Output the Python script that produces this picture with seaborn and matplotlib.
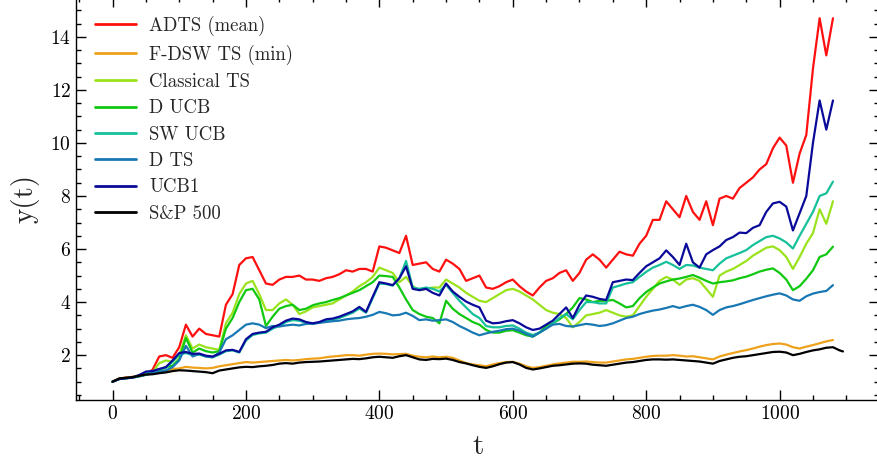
import numpy as np
import pandas as pd
import matplotlib
matplotlib.use("Agg")
import matplotlib.pyplot as plt
import seaborn as sns

# ---------------- data ----------------
t_alg = list(range(0, 1081, 10))
t_sp = list(range(0, 1091, 10)) + [1095]

adts = [1.00, 1.12, 1.15, 1.18, 1.22, 1.28, 1.45, 1.95, 2.00, 1.90,
        2.30, 3.15, 2.70, 3.00, 2.80, 2.75, 2.70, 3.90, 4.30, 5.40,
        5.65, 5.70, 5.20, 4.70, 4.65, 4.85, 4.95, 4.95, 5.00, 4.85,
        4.85, 4.80, 4.90, 4.95, 5.05, 5.20, 5.15, 5.25, 5.25, 5.15,
        6.10, 6.05, 5.95, 5.85, 6.50, 5.40, 5.45, 5.50, 5.25, 5.15,
        5.60, 5.45, 5.25, 4.80, 4.90, 5.00, 4.55, 4.50, 4.60, 4.75,
        4.85, 4.60, 4.40, 4.25, 4.55, 4.80, 4.90, 5.10, 5.20, 4.80,
        5.10, 5.60, 5.80, 5.60, 5.30, 5.60, 5.90, 5.80, 5.75, 6.20,
        6.50, 7.10, 7.10, 7.80, 7.50, 7.20, 8.00, 7.40, 7.10, 7.80,
        6.90, 7.90, 8.00, 7.90, 8.30, 8.50, 8.70, 9.00, 9.20, 9.80,
        10.20, 9.90, 8.50, 9.60, 10.30, 12.80, 14.70, 13.30, 14.70]

fdsw = [1.00, 1.12, 1.15, 1.18, 1.24, 1.30, 1.33, 1.38, 1.42, 1.48,
        1.50, 1.56, 1.53, 1.52, 1.50, 1.52, 1.58, 1.62, 1.66, 1.70,
        1.74, 1.72, 1.74, 1.76, 1.78, 1.80, 1.82, 1.80, 1.82, 1.85,
        1.87, 1.88, 1.92, 1.95, 1.97, 2.00, 2.00, 1.98, 2.02, 2.05,
        2.06, 2.05, 2.03, 2.04, 2.05, 1.98, 1.94, 1.92, 1.95, 1.92,
        1.94, 1.90, 1.80, 1.70, 1.65, 1.62, 1.58, 1.65, 1.70, 1.74,
        1.75, 1.68, 1.58, 1.52, 1.55, 1.60, 1.65, 1.69, 1.72, 1.75,
        1.75, 1.76, 1.74, 1.72, 1.72, 1.76, 1.80, 1.84, 1.86, 1.90,
        1.94, 1.97, 1.98, 1.98, 2.00, 1.98, 1.95, 1.96, 1.92, 1.88,
        1.84, 1.95, 2.02, 2.08, 2.14, 2.19, 2.25, 2.32, 2.38, 2.42,
        2.44, 2.40, 2.30, 2.25, 2.32, 2.38, 2.45, 2.52, 2.57]

classical = [1.00, 1.10, 1.13, 1.16, 1.21, 1.27, 1.35, 1.70, 1.80, 1.75,
             2.00, 2.75, 2.25, 2.40, 2.30, 2.25, 2.20, 3.20, 3.60, 4.30,
             4.70, 4.80, 4.30, 3.70, 3.70, 3.95, 4.10, 3.90, 3.55, 3.65,
             3.80, 3.85, 3.90, 3.95, 4.10, 4.25, 4.40, 4.60, 4.75, 4.95,
             5.30, 5.20, 5.10, 4.75, 4.95, 4.60, 4.45, 4.50, 4.55, 4.55,
             4.85, 4.70, 4.55, 4.35, 4.20, 4.05, 4.00, 4.15, 4.30, 4.45,
             4.50, 4.40, 4.25, 4.10, 3.90, 3.70, 3.60, 3.55, 3.40, 3.05,
             3.25, 3.50, 3.55, 3.60, 3.70, 3.60, 3.50, 3.45, 3.50, 3.85,
             4.20, 4.50, 4.80, 4.95, 4.85, 4.65, 4.85, 4.90, 4.80, 4.50,
             4.20, 5.00, 5.15, 5.25, 5.40, 5.55, 5.75, 5.90, 6.05, 6.10,
             5.96, 5.70, 5.25, 5.70, 6.20, 6.60, 7.50, 6.95, 7.80]

d_ucb = [1.00, 1.10, 1.13, 1.16, 1.20, 1.26, 1.32, 1.45, 1.55, 1.60,
         1.85, 2.65, 2.10, 2.25, 2.15, 2.10, 2.15, 3.00, 3.40, 4.00,
         4.45, 4.50, 4.10, 3.10, 3.45, 3.75, 3.85, 3.90, 3.70, 3.75,
         3.88, 3.95, 4.00, 4.08, 4.15, 4.25, 4.35, 4.45, 4.60, 4.75,
         5.00, 4.98, 4.95, 4.55, 4.10, 3.70, 3.55, 3.45, 3.40, 3.20,
         4.05, 3.75, 3.55, 3.40, 3.25, 3.15, 2.95, 2.85, 2.85, 2.92,
         2.94, 2.85, 2.75, 2.70, 2.85, 3.10, 3.20, 3.35, 3.55, 3.80,
         4.15, 4.10, 4.00, 4.05, 4.05, 4.08, 3.95, 3.80, 3.85, 4.15,
         4.38, 4.55, 4.70, 4.78, 4.85, 4.89, 4.95, 5.02, 4.92, 4.80,
         4.70, 4.75, 4.78, 4.82, 4.90, 4.96, 5.05, 5.15, 5.22, 5.27,
         5.10, 4.85, 4.45, 4.60, 4.88, 5.20, 5.70, 5.80, 6.09]

sw_ucb = [1.00, 1.10, 1.13, 1.16, 1.24, 1.36, 1.38, 1.46, 1.52, 1.75,
          2.02, 2.08, 2.00, 2.02, 1.95, 1.92, 2.02, 2.15, 2.18, 2.10,
          2.55, 2.76, 2.82, 2.85, 3.00, 3.10, 3.25, 3.32, 3.30, 3.22,
          3.18, 3.22, 3.30, 3.34, 3.40, 3.50, 3.60, 3.76, 3.60, 4.15,
          4.70, 4.68, 4.62, 4.90, 5.55, 4.55, 4.50, 4.55, 4.50, 4.40,
          4.65, 4.35, 4.05, 3.80, 3.55, 3.40, 3.10, 3.05, 3.05, 3.10,
          3.12, 3.00, 2.85, 2.76, 2.85, 3.00, 3.20, 3.40, 3.55, 3.35,
          3.70, 4.00, 4.00, 3.95, 3.95, 4.55, 4.62, 4.70, 4.75, 4.95,
          5.14, 5.30, 5.40, 5.52, 5.40, 5.25, 5.40, 5.38, 5.30, 5.25,
          5.20, 5.45, 5.65, 5.75, 5.85, 5.96, 6.15, 6.30, 6.45, 6.50,
          6.40, 6.25, 6.02, 6.50, 6.95, 7.40, 8.00, 8.10, 8.54]

d_ts = [1.00, 1.10, 1.13, 1.15, 1.20, 1.26, 1.32, 1.38, 1.42, 1.55,
        1.80, 2.35, 1.95, 2.05, 1.95, 1.92, 2.10, 2.60, 2.75, 2.95,
        3.15, 3.20, 3.15, 3.02, 3.10, 3.08, 3.12, 3.15, 3.12, 3.18,
        3.19, 3.22, 3.25, 3.28, 3.30, 3.35, 3.38, 3.40, 3.45, 3.52,
        3.63, 3.58, 3.50, 3.52, 3.60, 3.48, 3.32, 3.35, 3.30, 3.32,
        3.35, 3.25, 3.10, 2.98, 2.85, 2.75, 2.82, 2.88, 2.92, 2.98,
        3.00, 2.92, 2.80, 2.70, 2.85, 3.00, 3.15, 3.18, 3.10, 3.08,
        3.13, 3.18, 3.15, 3.10, 3.13, 3.20, 3.30, 3.40, 3.45, 3.55,
        3.62, 3.68, 3.72, 3.78, 3.85, 3.78, 3.85, 3.90, 3.82, 3.70,
        3.52, 3.70, 3.80, 3.85, 3.92, 4.00, 4.08, 4.15, 4.22, 4.28,
        4.33, 4.25, 4.10, 4.05, 4.22, 4.32, 4.38, 4.42, 4.64]

ucb1 = [1.00, 1.10, 1.13, 1.16, 1.25, 1.38, 1.40, 1.48, 1.55, 1.80,
        2.08, 2.12, 2.05, 2.06, 1.98, 1.95, 2.05, 2.18, 2.20, 2.12,
        2.60, 2.80, 2.85, 2.88, 3.05, 3.15, 3.30, 3.38, 3.35, 3.25,
        3.20, 3.25, 3.35, 3.38, 3.45, 3.55, 3.65, 3.82, 3.63, 4.20,
        4.75, 4.70, 4.64, 4.90, 5.35, 4.50, 4.45, 4.50, 4.35, 4.25,
        4.70, 4.40, 4.20, 4.02, 3.90, 3.80, 3.30, 3.20, 3.22, 3.28,
        3.32, 3.20, 3.05, 2.95, 3.00, 3.15, 3.30, 3.55, 3.80, 3.40,
        3.90, 4.25, 4.20, 4.12, 4.08, 4.75, 4.80, 4.85, 4.83, 5.10,
        5.35, 5.50, 5.65, 5.95, 5.70, 5.40, 6.20, 5.50, 5.30, 5.80,
        5.96, 6.10, 6.34, 6.45, 6.62, 6.60, 6.80, 6.90, 7.40, 7.72,
        7.78, 7.60, 6.70, 7.35, 8.00, 10.00, 11.60, 10.50, 11.60]

sp500 = [1.00, 1.12, 1.15, 1.17, 1.22, 1.27, 1.28, 1.32, 1.35, 1.40,
         1.43, 1.42, 1.40, 1.38, 1.36, 1.32, 1.42, 1.46, 1.50, 1.54,
         1.56, 1.55, 1.58, 1.60, 1.63, 1.68, 1.70, 1.68, 1.72, 1.74,
         1.75, 1.76, 1.78, 1.80, 1.82, 1.84, 1.86, 1.85, 1.88, 1.92,
         1.94, 1.92, 1.90, 1.96, 2.00, 1.92, 1.84, 1.82, 1.86, 1.85,
         1.87, 1.82, 1.74, 1.69, 1.62, 1.56, 1.52, 1.58, 1.66, 1.72,
         1.74, 1.65, 1.52, 1.46, 1.50, 1.55, 1.60, 1.62, 1.65, 1.68,
         1.69, 1.68, 1.64, 1.62, 1.60, 1.64, 1.68, 1.72, 1.74, 1.78,
         1.82, 1.84, 1.84, 1.83, 1.84, 1.82, 1.80, 1.78, 1.76, 1.72,
         1.68, 1.78, 1.84, 1.90, 1.94, 1.96, 2.00, 2.04, 2.08, 2.12,
         2.13, 2.10, 2.00, 2.05, 2.12, 2.18, 2.22, 2.28, 2.30, 2.18,
         2.14]

labels = ["ADTS (mean)", "F-DSW TS (min)", "Classical TS", "D UCB",
          "SW UCB", "D TS", "UCB1", "S&P 500"]
colors = ["#ff1010", "#eea21c", "#9ae31c", "#10c810",
          "#16c09a", "#1878b4", "#0a0a9a", "#000000"]

series = [adts, fdsw, classical, d_ucb, sw_ucb, d_ts, ucb1, sp500]
frames = []
for name, vals in zip(labels, series):
    tt = t_sp if name == "S&P 500" else t_alg
    frames.append(pd.DataFrame({"t": tt, "y": vals, "method": name}))
df = pd.concat(frames, ignore_index=True)

# ---------------- style ----------------
sns.set_style("ticks")
plt.rcParams["font.family"] = ["cmr10", "DejaVu Serif"]
plt.rcParams["axes.formatter.use_mathtext"] = True
plt.rcParams["mathtext.fontset"] = "cm"

fig = plt.figure(figsize=(8.77, 4.63), dpi=100)
W, H = 877, 463
ax = fig.add_axes([76 / W, (H - 400) / H, (879.5 - 76) / W, (400 + 3) / H])

sns.lineplot(data=df, x="t", y="y", hue="method", hue_order=labels,
             palette=dict(zip(labels, colors)), linewidth=1.6,
             estimator=None, ax=ax)

ax.set_xlim(-54.75, 1149.75)
ax.set_ylim(0.31, 15.5)
ax.set_xticks([0, 200, 400, 600, 800, 1000])
ax.set_yticks([2, 4, 6, 8, 10, 12, 14])
ax.xaxis.set_minor_locator(matplotlib.ticker.MultipleLocator(50))
ax.yaxis.set_minor_locator(matplotlib.ticker.MultipleLocator(0.5))
ax.tick_params(which="both", direction="in", top=True, right=True,
               width=1.0, labelsize=14, colors="black")
ax.tick_params(which="major", length=7)
ax.tick_params(which="minor", length=3.5)
for s in ax.spines.values():
    s.set_linewidth(1.0)
    s.set_color("black")

ax.set_xlabel("t", fontsize=21, labelpad=8)
ax.set_ylabel("y(t)", fontsize=21, labelpad=8)

leg = ax.legend(loc="upper left", frameon=False, fontsize=13.5,
                handlelength=2.2, handletextpad=0.7, labelspacing=0.45,
                borderaxespad=0.6, bbox_to_anchor=(0.0, 1.0))
for line in leg.get_lines():
    line.set_linewidth(2.0)

fig.savefig("out.png", dpi=100)
